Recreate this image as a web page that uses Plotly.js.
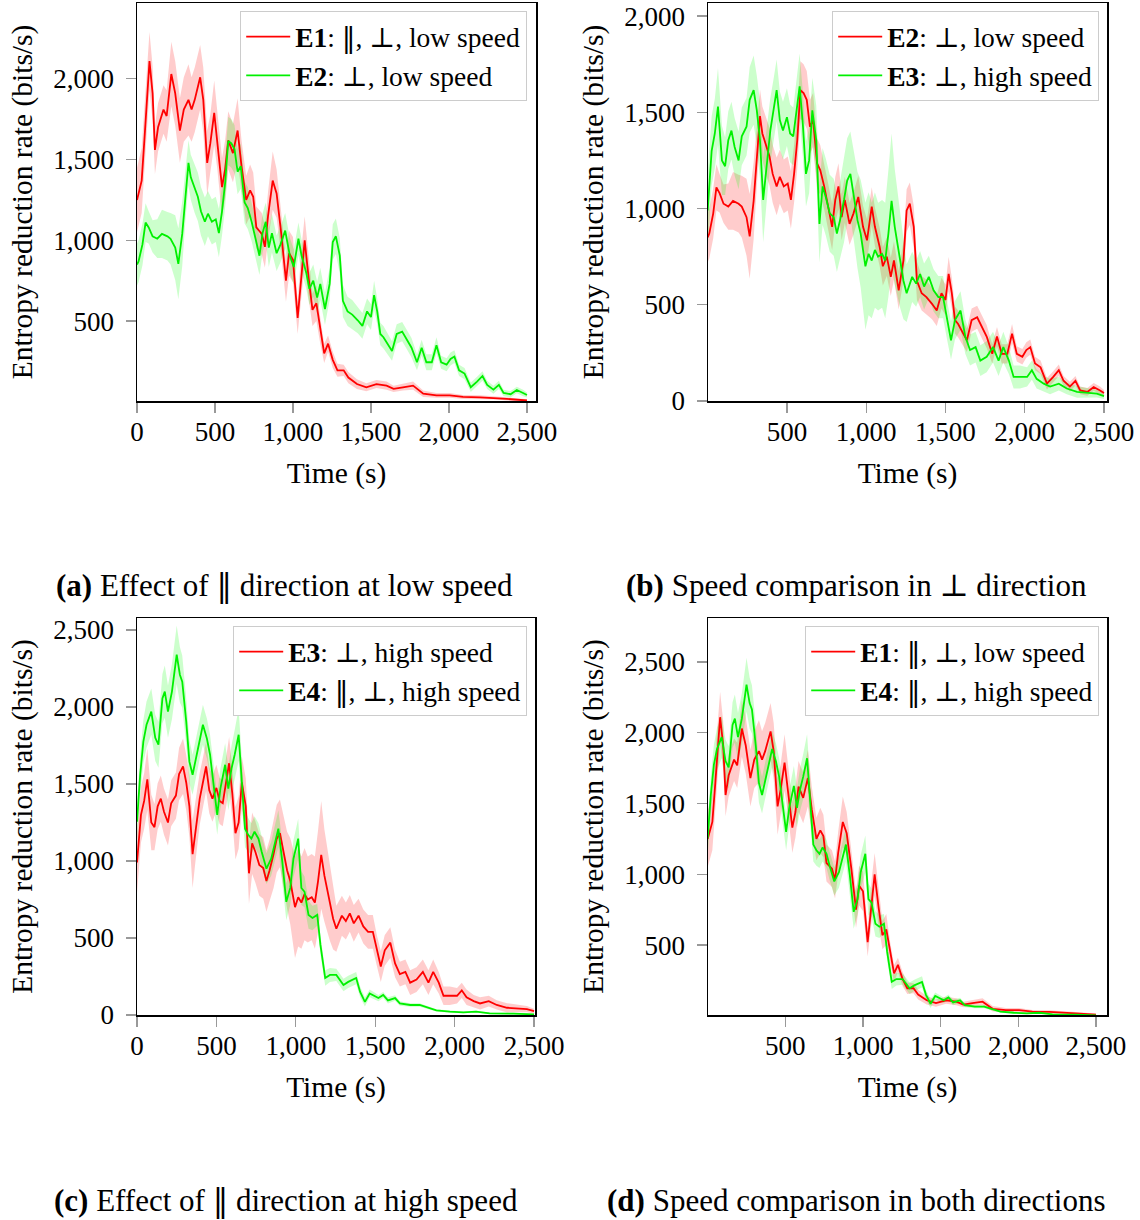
<!DOCTYPE html>
<html>
<head>
<meta charset="utf-8">
<script src="https://cdn.plot.ly/plotly-3.0.1.min.js"></script>
<style>html,body{margin:0;padding:0;background:#fff;}#chart{width:1140px;height:1220px;}</style>
</head>
<body>
<div id="chart"></div>
<script>
// ---- Data ----
// E1: ||, ⊥, low speed
const tE1 = [0,30,50,80,100,115,135,170,190,220,245,275,300,330,350,370,405,425,450,470,495,515,545,565,585,615,645,670,700,725,745,765,800,820,840,870,895,925,955,975,1000,1030,1055,1075,1100,1125,1150,1175,1200,1225,1255,1285,1325,1355,1410,1470,1535,1600,1645,1705,1770,1835,1920,2005,2090,2200,2305,2370,2500];
const vE1 = [1250,1370,1660,2110,1910,1560,1700,1810,1770,2030,1910,1680,1810,1870,1810,1870,2010,1870,1480,1600,1790,1620,1330,1440,1620,1540,1680,1460,1250,1310,1270,1080,1040,960,1150,1370,1290,1040,750,920,880,520,810,1000,770,570,610,440,300,360,260,195,195,150,110,90,110,100,80,90,100,50,40,40,30,28,24,18,8];
const sE1 = [200,200,200,180,170,150,150,150,160,200,200,200,200,220,200,200,200,200,200,180,200,180,180,180,180,180,200,160,150,160,150,130,130,130,150,180,150,130,130,140,140,100,150,150,130,100,110,80,60,50,50,40,35,35,30,25,25,25,20,20,25,20,15,15,12,12,10,10,8];

// E2: ⊥, low speed
const tE2 = [0,10,35,55,75,100,130,160,195,215,245,265,290,310,330,345,370,390,410,435,455,480,505,525,545,565,585,605,625,645,665,690,710,735,760,785,805,825,845,865,895,920,950,980,1005,1035,1055,1085,1105,1130,1155,1175,1205,1235,1255,1275,1300,1320,1350,1380,1415,1445,1475,1500,1520,1540,1560,1580,1635,1665,1700,1730,1760,1795,1825,1855,1890,1920,1950,1985,2010,2035,2065,2100,2140,2180,2215,2245,2285,2320,2350,2395,2435,2475,2500];
const vE2 = [850,870,975,1110,1080,1025,1010,1040,1025,1010,955,855,1040,1270,1480,1390,1320,1270,1180,1115,1165,1115,1130,1045,1180,1355,1615,1600,1565,1425,1460,1235,1200,1115,1010,905,1045,1115,955,1045,920,975,1060,905,835,1010,905,800,700,750,645,730,575,730,990,1025,905,625,560,540,505,470,560,525,660,560,420,400,315,420,435,385,335,245,335,245,245,350,245,230,265,280,195,175,90,125,160,105,75,105,55,47,73,55,42];
const sE2 = [130,130,130,120,100,100,120,150,150,160,200,220,200,150,140,140,150,150,150,150,140,140,140,150,150,150,150,150,150,140,140,130,130,120,120,120,120,120,120,120,110,110,110,110,110,100,100,100,100,100,100,100,100,100,110,110,110,100,90,90,80,80,80,80,90,80,70,70,60,60,60,60,60,50,50,50,50,50,40,40,40,40,35,35,30,30,30,25,25,25,20,20,20,20,15];

// E3: ⊥, high speed
const tE3 = [0,25,45,65,90,110,130,150,170,195,215,245,265,290,310,330,350,370,395,415,435,455,475,500,520,540,560,580,600,620,640,660,685,705,725,745,770,795,815,835,860,880,900,925,945,965,995,1015,1035,1055,1075,1100,1120,1140,1160,1180,1215,1235,1255,1290,1315,1340,1365,1395,1425,1455,1485,1510,1535,1560,1595,1625,1655,1690,1720,1760,1800,1835,1865,1900,1930,1970,2015,2045,2075,2120,2160,2215,2265,2330,2395,2455,2500];
const vE3 = [990,1300,1390,1530,1250,1220,1355,1405,1320,1250,1375,1425,1565,1615,1510,1355,1045,1215,1405,1510,1615,1460,1405,1475,1390,1375,1510,1635,1440,1180,1250,1510,1355,920,1115,1060,975,955,870,940,1045,1145,1180,1045,940,870,700,765,730,785,750,765,730,870,1040,905,730,625,560,645,610,660,595,645,575,540,540,420,315,420,470,335,265,280,210,230,280,210,280,210,125,125,125,160,115,90,75,90,65,47,42,38,25];
const sE3 = [200,180,180,200,180,150,150,150,150,150,150,150,170,180,180,200,220,200,170,160,160,150,150,150,150,150,160,170,170,170,170,170,180,200,200,200,200,200,200,200,220,220,220,230,250,280,330,320,300,300,280,280,300,330,350,300,250,200,150,130,120,120,120,110,110,110,110,100,100,100,100,90,80,80,80,80,80,80,80,70,60,60,50,50,50,40,40,35,30,30,25,20,15];

// E4: ||, ⊥, high speed
const tE4 = [0,20,40,60,90,115,135,160,175,195,220,235,250,270,285,310,330,350,370,395,415,440,460,480,505,525,555,575,595,615,640,660,680,700,720,740,765,785,815,845,890,915,940,965,985,1015,1035,1055,1080,1105,1135,1155,1185,1215,1255,1300,1330,1380,1405,1435,1465,1520,1550,1580,1625,1655,1720,1780,1825,1885,1970,2055,2135,2220,2370,2500];
const vE4 = [1255,1560,1775,1885,1970,1800,1755,2055,2100,1970,2100,2210,2340,2210,2165,1905,1645,1560,1665,1795,1885,1795,1690,1515,1300,1470,1625,1470,1600,1690,1820,1515,1210,1170,1145,1190,1145,1060,950,1015,1210,995,735,825,1015,1145,825,800,650,630,650,455,240,260,260,195,215,240,150,85,140,110,130,95,110,75,65,65,50,30,22,17,22,11,9,4];
const sE4 = [120,130,140,150,150,150,150,160,170,170,180,190,190,180,170,150,140,130,130,130,130,130,130,130,130,130,140,140,150,160,170,150,120,110,100,100,100,100,100,110,120,130,120,110,120,130,110,100,90,80,70,60,50,45,40,40,40,40,35,30,25,20,20,20,18,15,12,12,10,8,8,6,6,5,5,4];

const PAR = '<span style="font-family:DejaVu Serif">‖</span>';
const labels = {
  E1: '<b>E1</b>: ' + PAR + ', ⊥, low speed',
  E2: '<b>E2</b>: ⊥, low speed',
  E3: '<b>E3</b>: ⊥, high speed',
  E4: '<b>E4</b>: ' + PAR + ', ⊥, high speed'
};
const captions = [
  '<b>(a)</b> Effect of ' + PAR + ' direction at low speed',
  '<b>(b)</b> Speed comparison in ⊥ direction',
  '<b>(c)</b> Effect of ' + PAR + ' direction at high speed',
  '<b>(d)</b> Speed comparison in both directions'
];
const series = {
  E1: {t: tE1, v: vE1, s: sE1},
  E2: {t: tE2, v: vE2, s: sE2},
  E3: {t: tE3, v: vE3, s: sE3},
  E4: {t: tE4, v: vE4, s: sE4}
};

// ---- Layout ----
const W = 1140, H = 1220;
const FONT = 'Liberation Serif, DejaVu Serif, serif';
const RED = '#ff0000', GREEN = '#00f000';
const RED_BAND = 'rgba(255,0,0,0.2)', GREEN_BAND = 'rgba(0,255,0,0.2)';
const TICK_SIZE = 27, TITLE_SIZE = 29.5, LEG_SIZE = 27.5, CAP_SIZE = 31;

const panels = [
  {pair: ['E1','E2'], px: [137,536], py: [3,401], xr: [0,2558], yr: [5,2470], xt: [0,500,1000,1500,2000,2500], yt: [500,1000,1500,2000], leg: [527,11], cap: [284,585]},
  {pair: ['E2','E3'], px: [708,1107], py: [3,401], xr: [2,2519], yr: [0,2068], xt: [500,1000,1500,2000,2500], yt: [0,500,1000,1500,2000], leg: [1099,11], cap: [856,585]},
  {pair: ['E3','E4'], px: [137,535], py: [618,1015], xr: [0,2506], yr: [0,2578], xt: [0,500,1000,1500,2000,2500], yt: [0,500,1000,1500,2000,2500], leg: [527,626], cap: [286,1200]},
  {pair: ['E1','E4'], px: [708,1107], py: [618,1015], xr: [2,2571], yr: [6,2811], xt: [500,1000,1500,2000,2500], yt: [500,1000,1500,2000,2500], leg: [1099,626], cap: [856,1200]}
];

const traces = [];
const layout = {
  width: W, height: H,
  margin: {l:0, r:0, t:0, b:0},
  paper_bgcolor: '#fff', plot_bgcolor: '#fff',
  font: {family: FONT, size: 26, color: '#000'},
  annotations: [],
  showlegend: true
};

function fmt(v){ return v.toLocaleString('en-US'); }

panels.forEach((p, i) => {
  const n = i + 1;
  const xa = n === 1 ? 'x' : 'x' + n;
  const ya = n === 1 ? 'y' : 'y' + n;
  const legName = n === 1 ? 'legend' : 'legend' + n;
  const colors = [[RED, RED_BAND], [GREEN, GREEN_BAND]];
  p.pair.forEach((key, k) => {
    const d = series[key];
    const up = d.v.map((v, j) => v + d.s[j]);
    const lo = d.v.map((v, j) => Math.max(0, v - d.s[j]));
    traces.push({
      x: d.t.concat(d.t.slice().reverse()),
      y: up.concat(lo.slice().reverse()),
      xaxis: xa, yaxis: ya, type: 'scatter', mode: 'lines',
      fill: 'toself', fillcolor: colors[k][1], line: {width: 0, color: 'rgba(0,0,0,0)'},
      hoverinfo: 'skip', showlegend: false
    });
  });
  p.pair.forEach((key, k) => {
    const d = series[key];
    traces.push({
      x: d.t, y: d.v, xaxis: xa, yaxis: ya, type: 'scatter', mode: 'lines',
      line: {color: colors[k][0], width: 1.8},
      name: labels[key], legend: legName, showlegend: true
    });
  });

  const axKeyX = n === 1 ? 'xaxis' : 'xaxis' + n;
  const axKeyY = n === 1 ? 'yaxis' : 'yaxis' + n;
  layout[axKeyX] = {
    domain: [p.px[0]/W, p.px[1]/W], anchor: ya, range: p.xr,
    tickmode: 'array', tickvals: p.xt, ticktext: p.xt.map(fmt),
    ticks: 'outside', ticklen: 10, tickcolor: '#999', tickwidth: 1.2,
    showline: true, mirror: true, linecolor: '#000', linewidth: 1.5,
    showgrid: false, zeroline: false, ticklabelstandoff: -4,
    tickfont: {family: FONT, size: TICK_SIZE, color: '#000'},
    title: {text: 'Time (s)', font: {family: FONT, size: TITLE_SIZE, color: '#000'}, standoff: 16}
  };
  layout[axKeyY] = {
    domain: [1 - p.py[1]/H, 1 - p.py[0]/H], anchor: xa, range: p.yr,
    tickmode: 'array', tickvals: p.yt, ticktext: p.yt.map(fmt),
    ticks: 'outside', ticklen: 10, tickcolor: '#999', tickwidth: 1.2,
    showline: true, mirror: true, linecolor: '#000', linewidth: 1.5,
    showgrid: false, zeroline: false, ticklabelstandoff: 6,
    tickfont: {family: FONT, size: TICK_SIZE, color: '#000'},
    title: {text: 'Entropy reduction rate (bits/s)', font: {family: FONT, size: TITLE_SIZE, color: '#000'}, standoff: 12}
  };
  layout[legName] = {
    x: p.leg[0]/W, y: 1 - p.leg[1]/H, xanchor: 'right', yanchor: 'top',
    xref: 'paper', yref: 'paper',
    bgcolor: '#fff', bordercolor: '#cccccc', borderwidth: 1.2,
    font: {family: FONT, size: LEG_SIZE, color: '#000'},
    tracegroupgap: 0, itemwidth: 44
  };
  layout.annotations.push({
    text: captions[i], x: p.cap[0]/W, y: 1 - p.cap[1]/H, xref: 'paper', yref: 'paper',
    xanchor: 'center', yanchor: 'middle', showarrow: false,
    font: {family: FONT, size: CAP_SIZE, color: '#000'}
  });
});

Plotly.newPlot('chart', traces, layout, {displayModeBar: false, staticPlot: true});
</script>
</body>
</html>
